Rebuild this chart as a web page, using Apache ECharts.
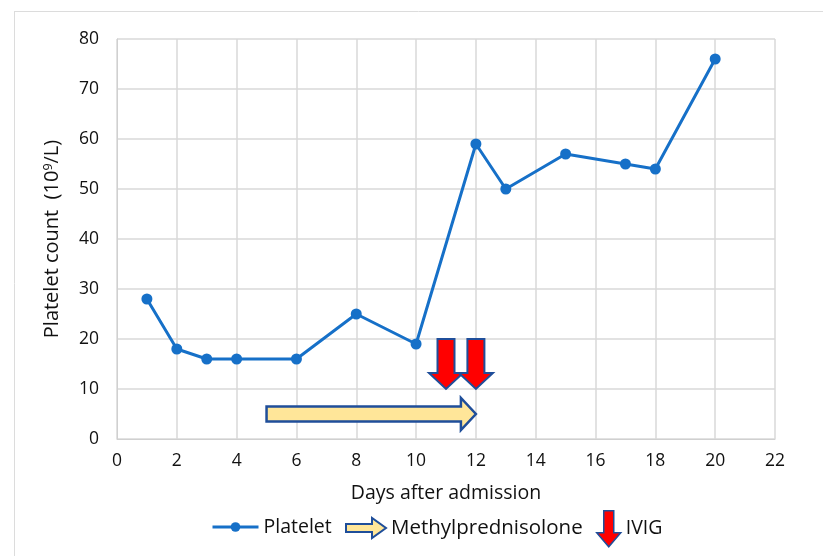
<!DOCTYPE html>
<html><head><meta charset="utf-8">
<script src="https://cdn.jsdelivr.net/npm/echarts@6/dist/echarts.min.js"></script>
<style>html,body{margin:0;padding:0;background:#fff}#c{width:823px;height:556px}</style>
</head><body><div id="c"></div>
<script>
const days = [1, 2, 3, 4, 6, 8, 10, 12, 13, 15, 17, 18, 20];
const platelet = [28, 18, 16, 16, 16, 25, 19, 59, 50, 57, 55, 54, 76];
const methylpredRange = [5, 12];
const methylpredLevel = 5;
const ivigDays = [11, 12];
const ivigTop = 20;
const ivigTip = 10;
const xTicks = [0, 22, 2];
const yTicks = [0, 80, 10];

const FONT = '"Open Sans", Lato, sans-serif';
const BLUE = '#1670c8';
const arrowRightPath = 'path://M0,6 L26,6 L26,0 L40,10 L26,20 L26,14 L0,14 Z';
const arrowDownPath = 'path://M7,0 L17,0 L17,22 L24,22 L12,36 L0,22 L7,22 Z';

const chart = echarts.init(document.getElementById('c'), null, {renderer: 'canvas'});
chart.setOption({
  animation: false,
  textStyle: {fontFamily: FONT},
  graphic: [
    {type: 'line', shape: {x1: 14.5, y1: 11, x2: 14.5, y2: 556}, style: {stroke: '#dcdcdc', lineWidth: 1}},
    {type: 'line', shape: {x1: 14, y1: 11.5, x2: 823, y2: 11.5}, style: {stroke: '#dcdcdc', lineWidth: 1}}
  ],
  grid: {left: 117, right: 48, top: 39, bottom: 117},
  xAxis: {
    type: 'value', min: xTicks[0], max: xTicks[1], interval: xTicks[2],
    name: 'Days after admission', nameLocation: 'middle', nameGap: 44,
    nameTextStyle: {fontSize: 19.5, color: '#111', fontFamily: FONT},
    axisLine: {show: true, lineStyle: {color: '#d0d0d0', width: 1}},
    axisTick: {show: false},
    axisLabel: {fontSize: 17.5, color: '#111', margin: 13, fontFamily: FONT},
    splitLine: {show: true, lineStyle: {color: '#d9d9d9', width: 1.5}}
  },
  yAxis: {
    type: 'value', min: yTicks[0], max: yTicks[1], interval: yTicks[2],
    name: '{a|Platelet count  (10}{s|9}{a|/L)}', nameLocation: 'middle', nameGap: 54,
    nameTextStyle: {rich: {
      a: {fontSize: 20, color: '#111', fontFamily: FONT},
      s: {fontSize: 12.5, color: '#111', fontFamily: FONT, verticalAlign: 'top', padding: [0, 0, 8, 0]}
    }},
    axisLine: {show: true, lineStyle: {color: '#d0d0d0', width: 1}},
    axisTick: {show: false},
    axisLabel: {fontSize: 17.5, color: '#111', margin: 18, fontFamily: FONT},
    splitLine: {show: true, lineStyle: {color: '#d9d9d9', width: 1.5}}
  },
  legend: [
    {data: [{name: 'Platelet', lineStyle: {width: 3}}], left: 211, top: 517, padding: 0,
     itemWidth: 46, itemHeight: 12, itemGap: 6,
     textStyle: {fontSize: 19.5, color: '#111', fontFamily: FONT}},
    {data: [{name: 'Methylprednisolone', icon: arrowRightPath,
             itemStyle: {color: '#FFE699', borderColor: '#1F4E9A', borderWidth: 2}}],
     left: 345, top: 517, padding: 0, itemWidth: 40, itemHeight: 20, itemGap: 6,
     textStyle: {fontSize: 20.5, color: '#111', fontFamily: FONT}},
    {data: [{name: 'IVIG', icon: arrowDownPath,
             itemStyle: {color: '#FF0000', borderColor: '#1F4E9A', borderWidth: 1.5}}],
     left: 596, top: 510, padding: 0, itemWidth: 24, itemHeight: 36, itemGap: 6,
     textStyle: {fontSize: 19.5, color: '#111', fontFamily: FONT}}
  ],
  series: [
    {
      name: 'Methylprednisolone', type: 'custom', z: 3,
      itemStyle: {color: '#FFE699', borderColor: '#1F4E9A', borderWidth: 2},
      data: [[methylpredRange[0], methylpredRange[1], methylpredLevel]],
      renderItem: function (params, api) {
        const a = api.coord([api.value(0), api.value(2)]);
        const b = api.coord([api.value(1), api.value(2)]);
        const hh = 16, bh = 7.5, hl = 15;
        const pts = [[a[0], a[1] - bh], [b[0] - hl, a[1] - bh], [b[0] - hl, a[1] - hh], [b[0], a[1]],
                     [b[0] - hl, a[1] + hh], [b[0] - hl, a[1] + bh], [a[0], a[1] + bh]];
        return {type: 'polygon', shape: {points: pts},
                style: {fill: '#FFE699', stroke: '#1F4E9A', lineWidth: 2.5}};
      }
    },
    {
      name: 'IVIG', type: 'custom', z: 3,
      itemStyle: {color: '#FF0000', borderColor: '#1F4E9A'},
      data: ivigDays.map(d => [d, ivigTop, ivigTip]),
      renderItem: function (params, api) {
        const t = api.coord([api.value(0), api.value(1)]);
        const p = api.coord([api.value(0), api.value(2)]);
        const bw = 8.5, hw = 17, hl = 16;
        const x = t[0];
        const pts = [[x - bw, t[1]], [x + bw, t[1]], [x + bw, p[1] - hl], [x + hw, p[1] - hl],
                     [x, p[1]], [x - hw, p[1] - hl], [x - bw, p[1] - hl]];
        return {type: 'polygon', shape: {points: pts},
                style: {fill: '#FF0000', stroke: '#1F4E9A', lineWidth: 2}};
      }
    },
    {
      name: 'Platelet', type: 'line', z: 4,
      data: days.map((d, i) => [d, platelet[i]]),
      symbol: 'circle', symbolSize: 11,
      lineStyle: {color: BLUE, width: 3},
      itemStyle: {color: BLUE}
    }
  ]
});
</script></body></html>
